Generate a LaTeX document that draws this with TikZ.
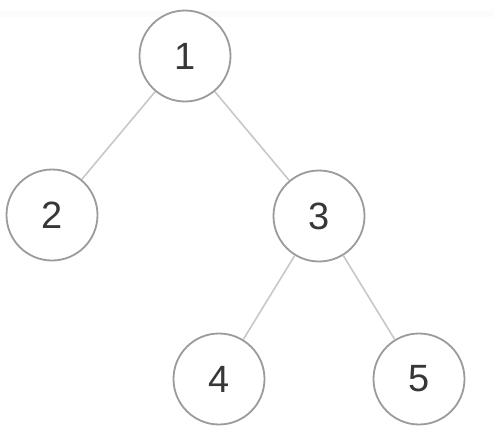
\documentclass[tikz,border=0pt]{standalone}
\usepackage{fontspec}
\setmainfont{Liberation Sans}
\definecolor{ringc}{RGB}{155,155,155}
\definecolor{edgec}{RGB}{200,200,200}
\definecolor{textc}{RGB}{55,55,55}
\begin{document}
\begin{tikzpicture}[x=1pt,y=-1pt,
  treenode/.style={circle,draw=ringc,line width=1.8pt,minimum size=91pt,inner sep=0pt,fill=white,text=textc,font=\fontsize{38}{38}\selectfont},
  treeedge/.style={draw=edgec,line width=1.6pt}]
\useasboundingbox (0,0) rectangle (493,447);
\fill[white] (0,0) rectangle (493,447);
\fill[black!1.5] (0,11) rectangle (493,17);
\node[treenode] (n1) at (185,56) {1};
\node[treenode] (n2) at (52,215) {2};
\node[treenode] (n3) at (319,216) {3};
\node[treenode] (n4) at (219,379) {4};
\node[treenode] (n5) at (419,379) {5};
\draw[treeedge] (n1) -- (n2);
\draw[treeedge] (n1) -- (n3);
\draw[treeedge] (n3) -- (n4);
\draw[treeedge] (n3) -- (n5);
\end{tikzpicture}
\end{document}
